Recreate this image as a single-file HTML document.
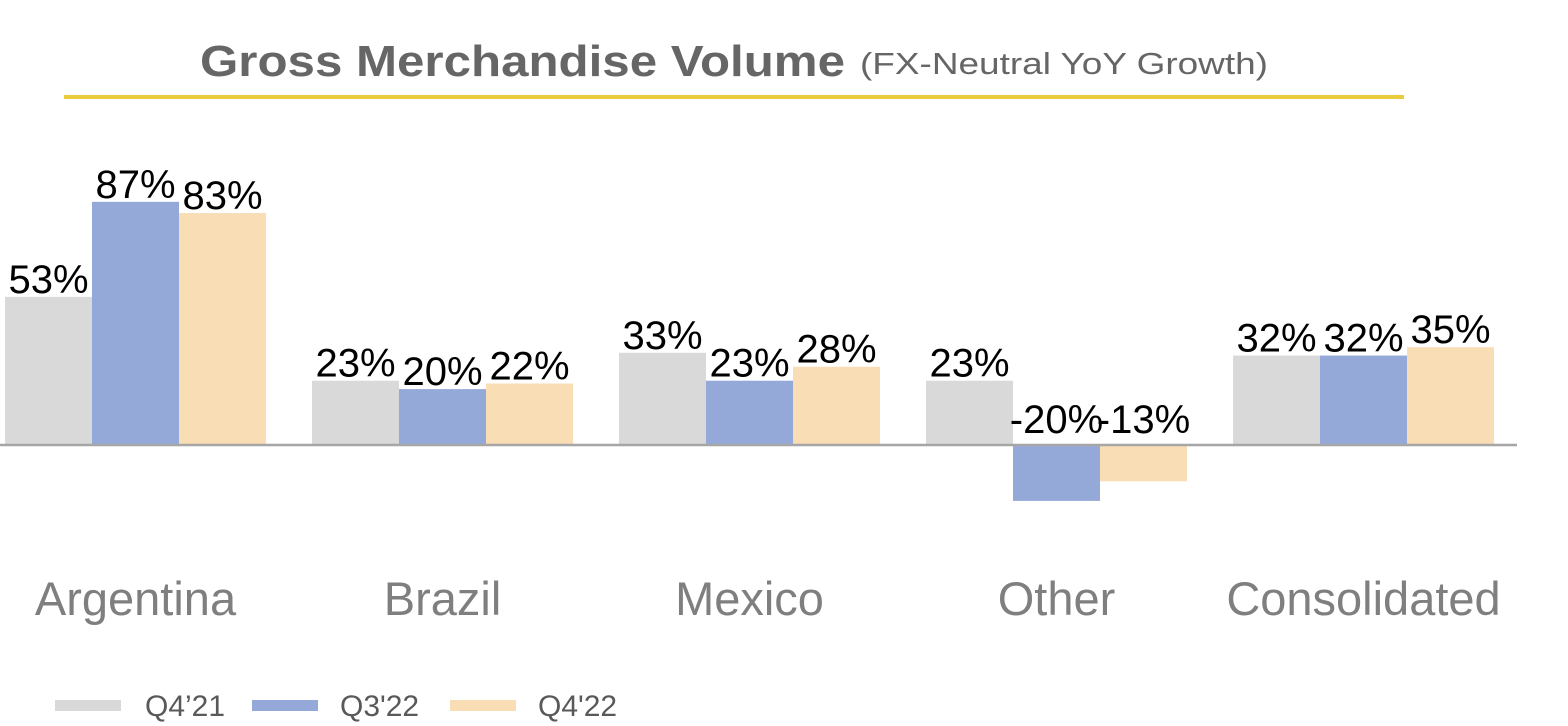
<!DOCTYPE html>
<html><head><meta charset="utf-8"><style>
body{margin:0;background:#fff;}
svg{display:block;font-family:"Liberation Sans",sans-serif;}
</style></head><body>
<svg id="chart" width="1568" height="726">
<text x="200" y="76" font-size="44" font-weight="bold" fill="#666" textLength="645" lengthAdjust="spacingAndGlyphs">Gross Merchandise Volume</text>
<text x="860" y="74" font-size="31" fill="#666" textLength="408" lengthAdjust="spacingAndGlyphs">(FX-Neutral YoY Growth)</text>
<rect x="64" y="95" width="1340" height="4" fill="#e9cb3c"/>
<g id="bars"></g>
<line x1="0" y1="445" x2="1517" y2="445" stroke="#a6a6a6" stroke-width="2.5"/>
<g id="legend"></g>
</svg>
<script>
const categories=["Argentina","Brazil","Mexico","Other","Consolidated"];
const seriesNames=["Q4’21","Q3'22","Q4'22"];
const q421=[53,23,33,23,32];
const q322=[87,20,23,-20,32];
const q422=[83,22,28,-13,35];
const colors=["#d9d9d9","#95a9d8","#f9ddb5"];
const series=[q421,q322,q422];
const NS="http://www.w3.org/2000/svg";
const zeroY=445, pxPer=2.795, groupStart=5, groupStep=307, barW=87;
const y=v=>zeroY-v*pxPer;
const gx=i=>groupStart+i*groupStep;
const bars=document.getElementById('bars');
function mk(tag,attrs,parent){const e=document.createElementNS(NS,tag);for(const k in attrs)e.setAttribute(k,attrs[k]);parent.appendChild(e);return e;}
categories.forEach((c,i)=>{
  series.forEach((s,j)=>{
    const v=s[i];const x=gx(i)+j*barW;
    const r=mk('rect',{x:x,y:Math.min(y(v),zeroY),width:barW,height:Math.abs(y(v)-zeroY),fill:colors[j]},bars);
    
    
    const ly=v>=0?y(v)-4:zeroY-12;
    const t=mk('text',{x:x+barW/2,y:ly,'font-size':40,'text-anchor':'middle',fill:'#000'},bars);
    t.textContent=v+'%';
    
    
  });
  const ct=mk('text',{x:gx(i)+barW*1.5,y:615,'font-size':47,'text-anchor':'middle',fill:'#7f7f7f'},bars);
  ct.textContent=c;
  
  
});
const lg=document.getElementById('legend');
const lx=[55,252,450];
const tx=[145,340,538];
seriesNames.forEach((n,j)=>{
  const r=mk('rect',{x:lx[j],y:700,width:66,height:11,fill:colors[j]},lg);
  
  
  const t=mk('text',{x:tx[j],y:716,'font-size':30,fill:'#595959'},lg);
  t.textContent=n;
  
  
});
</script>
</body></html>
